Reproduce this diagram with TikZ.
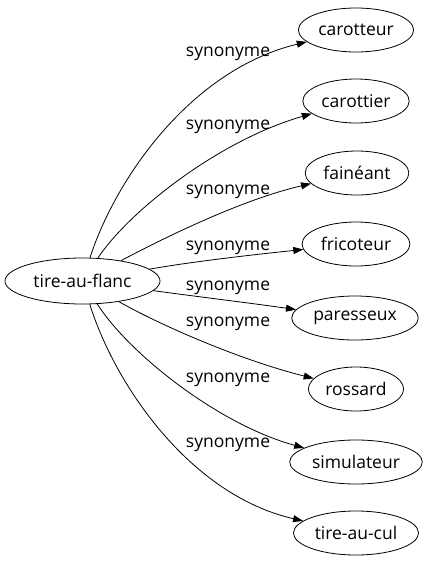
\documentclass[tikz,border=0pt]{standalone}
\usepackage{fontspec}
\setmainfont{Open Sans}
\usetikzlibrary{shapes.geometric,arrows.meta}

\begin{document}
\begin{tikzpicture}[x=1pt, y=-1pt, line width=0.8pt, line join=round,
  mot/.style={draw, ellipse, inner xsep=3pt, inner ysep=0pt, minimum height=44pt, font=\fontsize{17.5}{20}\selectfont},
  syn/.style={inner sep=0pt, font=\fontsize{17.5}{20}\selectfont},
  lien/.style={-{Triangle[length=10pt,width=7pt]}}]

  %% ==== nœud source ====
  \node[mot, inner xsep=0pt, minimum width=155pt, minimum height=46pt] (flanc) at (82.5,281) {tire-au-flanc};

  %% ==== synonymes ====
  \node[mot] (carotteur)  at (356,30)  {carotteur};
  \node[mot] (carottier)  at (356,101) {carottier};
  \node[mot] (faineant)   at (357,173) {fainéant};
  \node[mot] (fricoteur)  at (356,244) {fricoteur};
  \node[mot] (paresseux)  at (355,318) {paresseux};
  \node[mot] (rossard)    at (356,389) {rossard};
  \node[mot] (simulateur) at (356,462) {simulateur};
  \node[mot] (tireaucul)  at (356,533) {tire-au-cul};

  %% ==== arcs (courbes de Bézier) ====
  \draw[lien] (flanc) .. controls (115,180) and (190,70)  .. (carotteur);
  \draw[lien] (flanc) .. controls (130,210) and (220,140) .. (carottier);
  \draw[lien] (flanc) .. controls (160,240) and (240,200) .. (faineant);
  \draw[lien] (flanc) .. controls (190,262) and (250,255) .. (fricoteur);
  \draw[lien] (flanc) .. controls (200,297) and (250,303) .. (paresseux);
  \draw[lien] (flanc) .. controls (160,325) and (240,360) .. (rossard);
  \draw[lien] (flanc) .. controls (130,355) and (220,425) .. (simulateur);
  \draw[lien] (flanc) .. controls (115,385) and (190,495) .. (tireaucul);

  %% ==== étiquettes ====
  \node[syn] (s1) at (228,54)  {synonyme};
  \node[syn] (s2) at (228,127) {synonyme};
  \node[syn] (s3) at (228,192) {synonyme};
  \node[syn] (s4) at (228,248) {synonyme};
  \node[syn] (s5) at (228,288) {synonyme};
  \node[syn] (s6) at (228,324) {synonyme};
  \node[syn] (s7) at (228,380) {synonyme};
  \node[syn] (s8) at (228,445) {synonyme};

  % cadre fixe
  \pgfresetboundingbox
  \path[use as bounding box] (0,0) rectangle (430,563);
\end{tikzpicture}
\end{document}
